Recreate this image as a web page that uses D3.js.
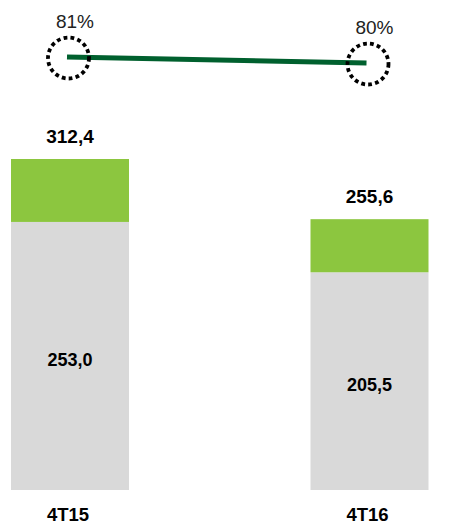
<!DOCTYPE html>
<html>
<head>
<meta charset="utf-8">
<script src="https://cdn.jsdelivr.net/npm/d3@7"></script>
<style>
  html, body { margin: 0; padding: 0; background: #ffffff; }
  svg { display: block; font-family: "Liberation Sans", Arial, sans-serif; }
</style>
</head>
<body>
<div id="chart"></div>
<script>
// ---- data ----
const categories = ["4T15", "4T16"];
const grayValues = [253.0, 205.5];
const greenValues = [59.4, 50.1];
const totalValues = [312.4, 255.6];
const grayLabels = ["253,0", "205,5"];
const totalLabels = ["312,4", "255,6"];
const pctValues = [81, 80];
const pctLabels = ["81%", "80%"];

// ---- layout ----
const W = 461, H = 525;
const svg = d3.select("#chart").append("svg").attr("width", W).attr("height", H);

const x = d3.scalePoint().domain(categories).range([70, 369.5]);
const barW = 118;
const y = d3.scaleLinear().domain([0, d3.max(totalValues)]).range([490, 159]);
const yPct = d3.scaleLinear().domain([75, 85]).range([93, 33]);

const rows = categories.map((c, i) => ({
  c, gray: grayValues[i], green: greenValues[i], total: totalValues[i],
  grayLabel: grayLabels[i], totalLabel: totalLabels[i],
  pct: pctValues[i], pctLabel: pctLabels[i]
}));

// gray segments
svg.selectAll("rect.gray").data(rows).join("rect")
  .attr("class", "gray")
  .attr("x", d => x(d.c) - barW / 2)
  .attr("width", barW)
  .attr("y", d => y(d.gray))
  .attr("height", d => y(0) - y(d.gray))
  .attr("fill", "#d9d9d9");

// green segments
svg.selectAll("rect.green").data(rows).join("rect")
  .attr("class", "green")
  .attr("x", d => x(d.c) - barW / 2)
  .attr("width", barW)
  .attr("y", d => y(d.gray + d.green))
  .attr("height", d => y(d.gray) - y(d.gray + d.green))
  .attr("fill", "#8cc63f");

// total labels
svg.selectAll("text.total").data(rows).join("text")
  .attr("class", "total")
  .attr("x", d => x(d.c))
  .attr("y", d => y(d.total) - 16.5)
  .attr("text-anchor", "middle")
  .attr("font-size", 19)
  .attr("font-weight", "bold")
  .attr("fill", "#000")
  .text(d => d.totalLabel);

// gray labels
svg.selectAll("text.glab").data(rows).join("text")
  .attr("class", "glab")
  .attr("x", d => x(d.c))
  .attr("y", d => (y(0) + y(d.gray)) / 2 + 10)
  .attr("text-anchor", "middle")
  .attr("font-size", 18)
  .attr("font-weight", "bold")
  .attr("fill", "#000")
  .text(d => d.grayLabel);

// category labels
svg.selectAll("text.cat").data(rows).join("text")
  .attr("class", "cat")
  .attr("x", d => x(d.c) - 2)
  .attr("y", 521)
  .attr("text-anchor", "middle")
  .attr("font-size", 18.5)
  .attr("font-weight", "bold")
  .attr("fill", "#000")
  .text(d => d.c);

// line
const line = d3.line().x(d => x(d.c) - 3).y(d => yPct(d.pct));
svg.append("path").datum(rows)
  .attr("d", line)
  .attr("fill", "none")
  .attr("stroke", "#00602e")
  .attr("stroke-width", 5);

// dotted circles
svg.selectAll("circle.mark").data(rows).join("circle")
  .attr("class", "mark")
  .attr("cx", d => x(d.c) - 1.5)
  .attr("cy", d => yPct(d.pct) + 1)
  .attr("r", 20.5)
  .attr("fill", "none")
  .attr("stroke", "#000")
  .attr("stroke-width", 3.8)
  .attr("stroke-dasharray", "3.8 3.2");

// pct labels
svg.selectAll("text.pct").data(rows).join("text")
  .attr("class", "pct")
  .attr("x", d => x(d.c) + 5)
  .attr("y", d => yPct(d.pct) - 29)
  .attr("text-anchor", "middle")
  .attr("font-size", 19)
  .attr("fill", "#222")
  .text(d => d.pctLabel);
</script>
</body>
</html>
